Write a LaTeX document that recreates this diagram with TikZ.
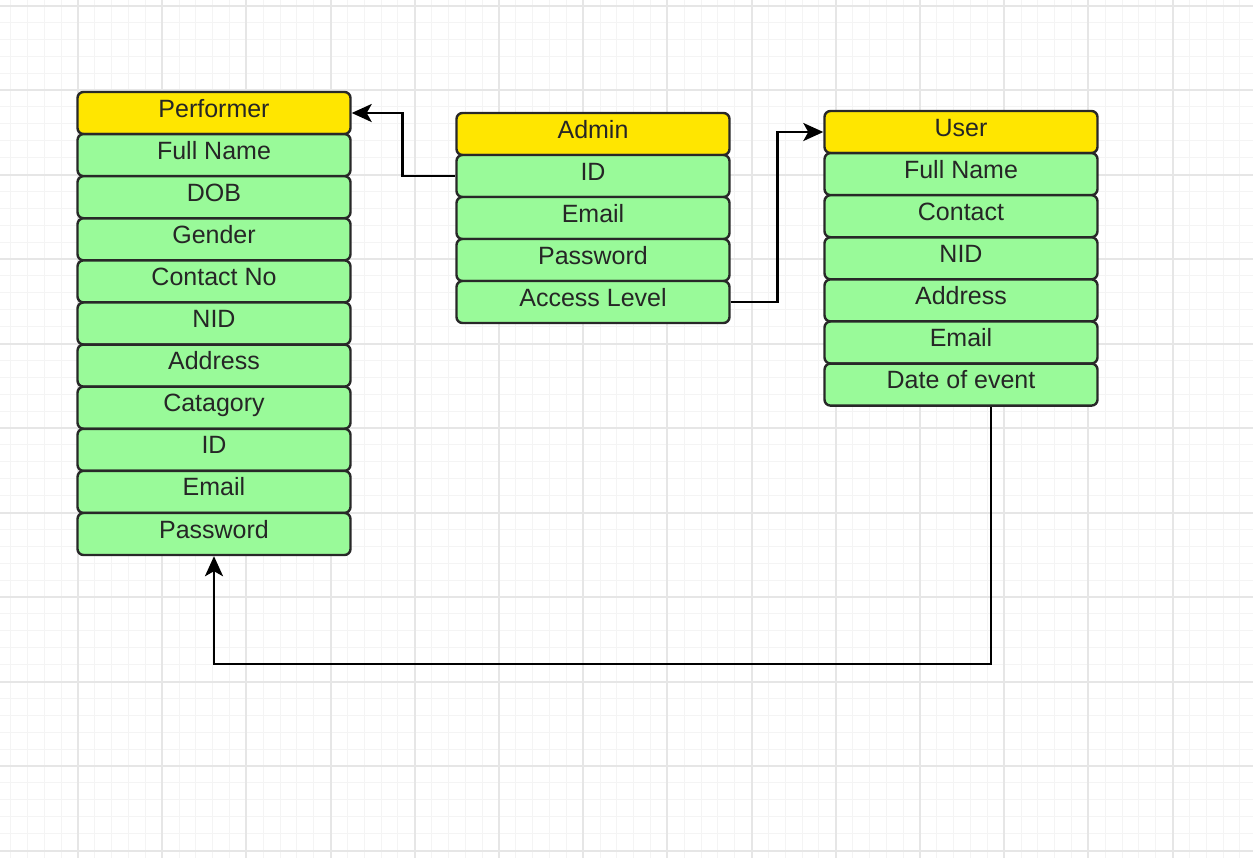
\documentclass[tikz,border=0pt]{standalone}
\usepackage{fontspec}
\setmainfont{Liberation Sans}
\usetikzlibrary{arrows.meta}
\usetikzlibrary{calc}
\definecolor{hdryellow}{RGB}{255,230,0}
\definecolor{rowgreen}{RGB}{153,250,153}
\definecolor{boxline}{RGB}{40,40,40}
\definecolor{gridmajor}{RGB}{230,230,230}
\definecolor{gridminor}{RGB}{244,244,244}
\tikzstyle{entity}=[rectangle,rounded corners=3pt,draw=boxline,line width=1.2pt,minimum width=136.5pt,minimum height=21pt,inner sep=0pt,text height=9pt,text depth=5pt,font=\fontsize{12.5}{15}\selectfont,text=black!85]
\tikzstyle{header}=[entity,fill=hdryellow]
\tikzstyle{field}=[entity,fill=rowgreen]
\tikzstyle{link}=[draw,line width=1.3pt,-{Stealth[length=10pt,width=9pt,inset=2.5pt]}]
\tikzstyle{majorline}=[draw=gridmajor,line width=1pt]
\tikzstyle{minorline}=[draw=gridminor,line width=0.5pt]

\begin{document}
\begin{tikzpicture}[x=0.5pt,y=-0.5pt]

   \useasboundingbox (0,0) rectangle (1253,858);
   \fill[white] (0,0) rectangle (1253,858);

% Grid
    \foreach \gx in {10.6,27.44,...,1253}
        \path[minorline] (\gx,0) -- (\gx,858);
    \foreach \gy in {5.5,22.4,...,858}
        \path[minorline] (0,\gy) -- (1253,\gy);
    \foreach \gx in {78,162.2,...,1253}
        \path[majorline] (\gx,0) -- (\gx,858);
    \foreach \gy in {5.5,90,...,858}
        \path[majorline] (0,\gy) -- (1253,\gy);

%Performer
    \node[header] (p0) at (214,113) {Performer};
    \foreach \name [count=\i] in {Full Name,DOB,Gender,Contact No,NID,Address,Catagory,ID,Email,Password}
        \node[field] (p\i) at (214,113+42.1*\i) {\name};

%Admin
    \node[header] (a0) at (593,134) {Admin};
    \foreach \name [count=\i] in {ID,Email,Password,Access Level}
        \node[field] (a\i) at (593,134+42*\i) {\name};

%User
    \node[header] (u0) at (961,132) {User};
    \foreach \name [count=\i] in {Full Name,Contact,NID,Address,Email,Date of event}
        \node[field] (u\i) at (961,132+42.1*\i) {\name};

% Links
    \draw[link] (a1.west) -- ++(-53,0) |- (p0.east);
    \draw[link] (a4.east) -- ++(47,0) |- (u0.west);
    \draw[link] ([xshift=15pt]u6.south) -- ++(0,257) -| (p10.south);

\end{tikzpicture}
\end{document}
